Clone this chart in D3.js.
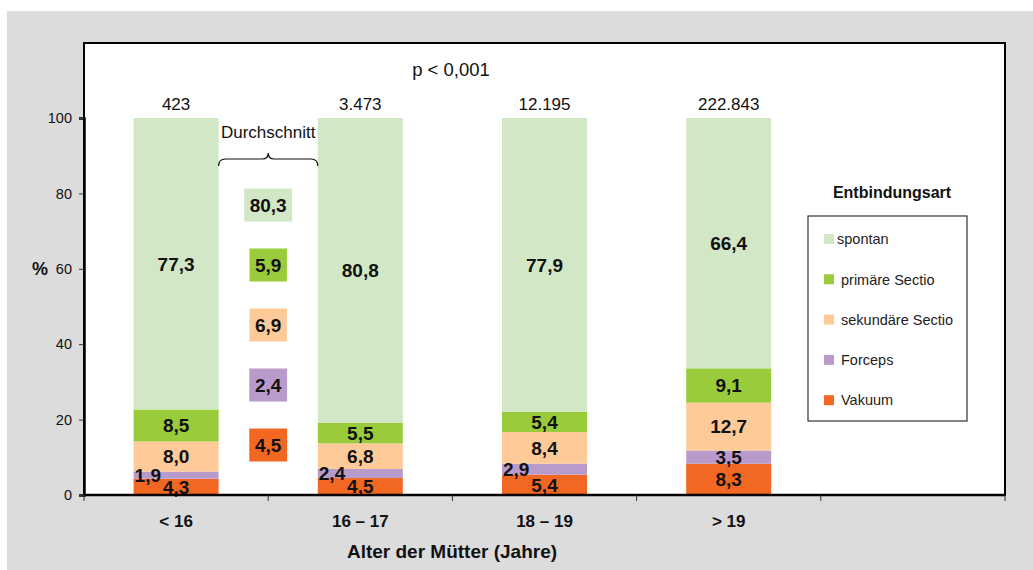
<!DOCTYPE html>
<html>
<head>
<meta charset="utf-8">
<script src="https://cdn.jsdelivr.net/npm/d3@7"></script>
<style>
  html, body { margin: 0; padding: 0; background: #fff; }
  svg { display: block; font-family: "Liberation Sans", Arial, Helvetica, sans-serif; }
</style>
</head>
<body>
<svg id="chart" width="1033" height="570"></svg>
<script>
// Age groups of the mothers (last slot is left empty)
const categories = ["< 16", "16 – 17", "18 – 19", "> 19", ""];
// Delivery modes, stacked from bottom to top
const modes = ["Vakuum", "Forceps", "sekundäre Sectio", "primäre Sectio", "spontan"];
// Percentages per age group, in the order of `modes`
const vakuum     = [4.3, 4.5, 5.4, 8.3];
const forceps    = [1.9, 2.4, 2.9, 3.5];
const sekundaer  = [8.0, 6.8, 8.4, 12.7];
const primaer    = [8.5, 5.5, 5.4, 9.1];
const spontan    = [77.3, 80.8, 77.9, 66.4];
// Number of births per age group
const totals = ["423", "3.473", "12.195", "222.843"];
// Average over all groups, top to bottom: spontan, primäre, sekundäre, Forceps, Vakuum
const averageValues = [80.3, 5.9, 6.9, 2.4, 4.5];
const yTicks = [0, 20, 40, 60, 80, 100];

const colors = {
  "spontan": "#d1e7c6",
  "primäre Sectio": "#9acb3b",
  "sekundäre Sectio": "#fdca98",
  "Forceps": "#b99bcb",
  "Vakuum": "#f26722"
};
const legendOrder = ["spontan", "primäre Sectio", "sekundäre Sectio", "Forceps", "Vakuum"];
const averageModes = ["spontan", "primäre Sectio", "sekundäre Sectio", "Forceps", "Vakuum"];

const fmt = v => v.toFixed(1).replace(".", ",");

const svg = d3.select("#chart");

// outer panel
svg.append("rect").attr("x", 7).attr("y", 11).attr("width", 1026).attr("height", 559).attr("fill", "#dcdcdc");

const plot = { left: 84, right: 1005, top: 43, bottom: 495 };
svg.append("rect")
  .attr("x", plot.left).attr("y", plot.top)
  .attr("width", plot.right - plot.left).attr("height", plot.bottom - plot.top)
  .attr("fill", "#fff").attr("stroke", "#000").attr("stroke-width", 2);

const x = d3.scaleBand().domain(categories).range([plot.left, plot.right]).paddingInner(0).paddingOuter(0);
const y = d3.scaleLinear().domain([0, 100]).range([plot.bottom, 118]);
const barW = 85;
const labelSize = 19;

// stacked data
const rows = categories.slice(0, 4).map((c, i) => ({
  cat: c,
  "Vakuum": vakuum[i], "Forceps": forceps[i], "sekundäre Sectio": sekundaer[i],
  "primäre Sectio": primaer[i], "spontan": spontan[i]
}));
const series = d3.stack().keys(modes)(rows);

const g = svg.append("g");
series.forEach(s => {
  s.forEach(d => {
    const cx = x(d.data.cat) + x.bandwidth() / 2;
    g.append("rect")
      .attr("x", cx - barW / 2).attr("width", barW)
      .attr("y", y(d[1])).attr("height", y(d[0]) - y(d[1]))
      .attr("fill", colors[s.key]);
  });
});
// value labels
series.forEach(s => {
  s.forEach(d => {
    const cx = x(d.data.cat) + x.bandwidth() / 2;
    const v = d[1] - d[0];
    const small = s.key === "Forceps" && v < 3;
    g.append("text")
      .attr("x", small ? cx - barW / 2 + 1 : cx)
      .attr("y", (y(d[0]) + y(d[1])) / 2)
      .attr("dy", "0.36em")
      .attr("text-anchor", small ? "start" : "middle")
      .attr("font-size", labelSize).attr("font-weight", "bold").attr("fill", "#111")
      .text(fmt(v));
  });
});

// totals above bars
rows.forEach((r, i) => {
  svg.append("text")
    .attr("x", x(r.cat) + x.bandwidth() / 2).attr("y", 110)
    .attr("text-anchor", "middle").attr("font-size", 17).attr("fill", "#111")
    .text(totals[i]);
});

// average column between first two groups
const avgX = x(categories[1]);
averageValues.forEach((v, i) => {
  const cy = 205 + i * 60;
  const t = svg.append("text")
    .attr("x", avgX).attr("y", cy).attr("dy", "0.36em")
    .attr("text-anchor", "middle").attr("font-size", labelSize).attr("font-weight", "bold").attr("fill", "#111")
    .text(fmt(v));
  const bb = t.node().getBBox();
  svg.insert("rect", () => t.node())
    .attr("x", avgX - bb.width / 2 - 5.5).attr("width", bb.width + 11)
    .attr("y", cy - 16.5).attr("height", 33)
    .attr("fill", colors[averageModes[i]]);
});

// brace and caption
const bL = x(categories[0]) + x.bandwidth() / 2 + barW / 2;
const bR = x(categories[1]) + x.bandwidth() / 2 - barW / 2;
const bM = (bL + bR) / 2;
svg.append("path")
  .attr("d", `M${bL},166 Q${bL},159 ${bL + 7},159 L${bM - 6},159 Q${bM},159 ${bM},153 Q${bM},159 ${bM + 6},159 L${bR - 7},159 Q${bR},159 ${bR},166`)
  .attr("fill", "none").attr("stroke", "#111").attr("stroke-width", 1.2);
svg.append("text").attr("x", bM).attr("y", 138).attr("text-anchor", "middle")
  .attr("font-size", 17).attr("fill", "#111").text("Durchschnitt");

svg.append("text").attr("x", 451).attr("y", 76).attr("text-anchor", "middle")
  .attr("font-size", 18.5).attr("fill", "#111").text("p < 0,001");

// y axis
const yAxis = svg.append("g").attr("transform", `translate(${plot.left},0)`)
  .call(d3.axisLeft(y).tickValues(yTicks).tickSize(5).tickPadding(7).tickFormat(d3.format("d")));
yAxis.select(".domain").attr("stroke", "#000").attr("stroke-width", 2.5);
yAxis.selectAll(".tick line").attr("stroke", "#333");
yAxis.selectAll(".tick text").attr("font-size", 14.5).attr("fill", "#111").attr("font-family", "Liberation Sans, Arial, sans-serif");

// x axis: ticks between groups
const xBoundaries = categories.map(c => x(c)).concat([plot.right]);
const xAxis = svg.append("g");
xAxis.append("line").attr("x1", plot.left).attr("x2", plot.right)
  .attr("y1", plot.bottom).attr("y2", plot.bottom).attr("stroke", "#000").attr("stroke-width", 2.5);
xAxis.selectAll("line.tick").data(xBoundaries).join("line").attr("class", "tick")
  .attr("x1", d => d).attr("x2", d => d).attr("y1", plot.bottom).attr("y2", plot.bottom + 6)
  .attr("stroke", "#333").attr("stroke-width", 1);
xAxis.selectAll("text").data(categories.filter(c => c)).join("text")
  .attr("x", d => x(d) + x.bandwidth() / 2).attr("y", 527)
  .attr("text-anchor", "middle").attr("font-size", 17).attr("font-weight", "bold").attr("fill", "#111")
  .text(d => d);

// axis titles
svg.append("text").attr("x", 452).attr("y", 558).attr("text-anchor", "middle")
  .attr("font-size", 19).attr("font-weight", "bold").attr("fill", "#111").text("Alter der Mütter (Jahre)");
svg.append("text").attr("x", 40).attr("y", 275).attr("text-anchor", "middle")
  .attr("font-size", 18).attr("font-weight", "bold").attr("fill", "#111").text("%");

// legend
svg.append("text").attr("x", 892).attr("y", 198).attr("text-anchor", "middle")
  .attr("font-size", 16).attr("font-weight", "bold").attr("fill", "#111").text("Entbindungsart");
svg.append("rect").attr("x", 808).attr("y", 216).attr("width", 159).attr("height", 205)
  .attr("fill", "#fff").attr("stroke", "#333").attr("stroke-width", 1.2);
legendOrder.forEach((k, i) => {
  const yy = 239 + i * 40.3;
  svg.append("rect").attr("x", 824).attr("y", yy - 5).attr("width", 10).attr("height", 10).attr("fill", colors[k]);
  svg.append("text").attr("x", i === 0 ? 837 : 841).attr("y", yy).attr("dy", "0.36em")
    .attr("font-size", 14.5).attr("fill", "#222").text(k);
});
</script>
</body>
</html>
